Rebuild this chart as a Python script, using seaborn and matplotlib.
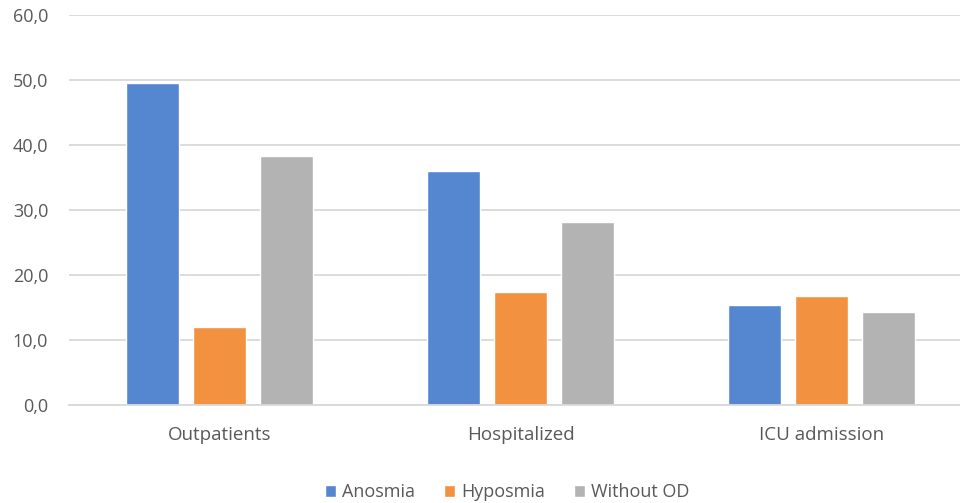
import matplotlib
matplotlib.use("Agg")
import matplotlib.pyplot as plt
import seaborn as sns
import pandas as pd

# values
groups = ["Outpatients", "Hospitalized", "ICU admission"]
series = ["Anosmia", "Hyposmia", "Without OD"]
anosmia = [49.6, 36.1, 15.5]
hyposmia = [12.1, 17.4, 16.8]
without_od = [38.4, 28.2, 14.4]
y_ticks = [0, 10, 20, 30, 40, 50, 60]

colors = ["#5587D0", "#F2913F", "#B3B3B3"]

df = pd.DataFrame({
    "group": groups * 3,
    "series": [series[0]] * 3 + [series[1]] * 3 + [series[2]] * 3,
    "value": anosmia + hyposmia + without_od,
})

sns.set_style("white")
plt.rcParams["font.family"] = ["Open Sans", "DejaVu Sans"]

fig = plt.figure(figsize=(9.6, 5.03), dpi=100)
ax = fig.add_axes([69 / 960, 97.7 / 503, 891 / 960, 390 / 503])

sns.barplot(data=df, x="group", y="value", hue="series", order=groups,
            hue_order=series, palette=colors, width=0.667, gap=0.22,
            saturation=1, errorbar=None, ax=ax, zorder=3)

ax.set_xlim(-0.5, -0.5 + 891 / 301)
ax.set_ylim(0, 60)
ax.set_yticks(y_ticks)
ax.set_yticklabels([f"{v:.1f}".replace(".", ",") for v in y_ticks])
ax.set_xlabel("")
ax.set_ylabel("")

ax.grid(axis="y", color="#D9D9D9", linewidth=1.3, zorder=0)
ax.set_axisbelow(True)
for s in ["left", "right", "top"]:
    ax.spines[s].set_visible(False)
ax.spines["bottom"].set_color("#D9D9D9")
ax.spines["bottom"].set_linewidth(1.3)
ax.spines["bottom"].set_zorder(4)
ax.tick_params(axis="both", length=0, colors="#595959")
ax.tick_params(axis="x", pad=15, labelsize=13.5)
ax.tick_params(axis="y", pad=15, labelsize=13)

ax.legend_.remove()
handles, labels = ax.get_legend_handles_labels()
fig.legend(handles, labels, loc="center", bbox_to_anchor=(0.528, 0.022),
           ncol=3, frameon=False, fontsize=13, handlelength=0.65,
           handleheight=0.65, handletextpad=0.3, columnspacing=1.6,
           labelcolor="#595959")

fig.savefig("out.png", dpi=100)
